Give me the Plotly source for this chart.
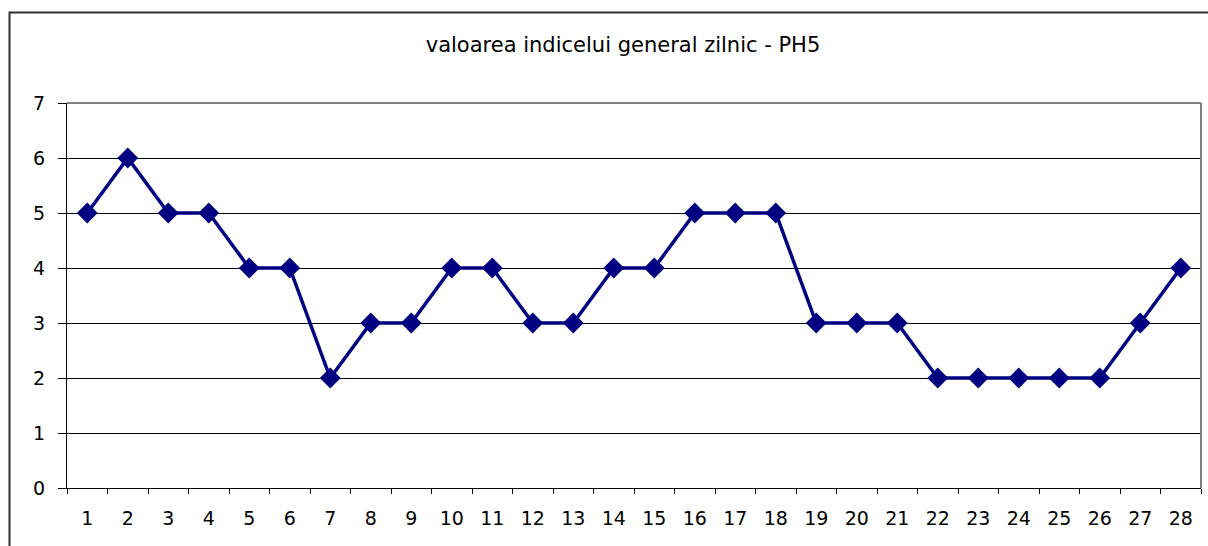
import plotly.graph_objects as go

days = [str(i) for i in range(1, 29)]
values = [5, 6, 5, 5, 4, 4, 2, 3, 3, 4, 4, 3, 3, 4, 4, 5, 5, 5, 3, 3, 3, 2, 2, 2, 2, 2, 3, 4]
y_ticks = [0, 1, 2, 3, 4, 5, 6, 7]

NAVY = "#000080"
# the original text is wide, so a wider sans face is closer than Arial
FONT = "DejaVu Sans, Liberation Sans, sans-serif"

fig = go.Figure(go.Scatter(
    x=days, y=values,
    mode="lines+markers",
    line=dict(color=NAVY, width=3.5),
    marker=dict(symbol="diamond", size=16, color=NAVY),
    cliponaxis=False,
))

fig.update_layout(
    width=1208, height=546,
    paper_bgcolor="white", plot_bgcolor="white",
    font=dict(family=FONT, color="black", size=19),
    margin=dict(l=67, r=7, t=103, b=58, autoexpand=False),
    showlegend=False,
    title=dict(
        text="valoarea indicelui general zilnic - PH5",
        font=dict(size=21, family=FONT, color="black"),
        x=(623 - 67) / 1134, xref="paper", xanchor="center",
        y=1 - 45 / 546, yref="container", yanchor="middle",
    ),
    xaxis=dict(
        type="category", range=[-0.5, 27.5], tickson="boundaries",
        ticks="outside", ticklen=5, tickcolor="black",
        showline=True, linecolor="black", linewidth=1,
        showgrid=False, ticklabelstandoff=13, tickfont=dict(size=19),
    ),
    yaxis=dict(
        range=[0, 7], tickvals=y_ticks, ticks="outside", ticklen=8,
        tickcolor="black", showline=True, linecolor="black", linewidth=1,
        showgrid=True, gridcolor="black", gridwidth=1, zeroline=False,
        ticklabelstandoff=9, tickfont=dict(size=19),
    ),
    shapes=[
        # plot area border (top and right), grey like the original
        dict(type="line", xref="paper", yref="paper", x0=0, x1=1, y0=1, y1=1,
             line=dict(color="#808080", width=2), layer="above"),
        dict(type="line", xref="paper", yref="paper", x0=1, x1=1, y0=0, y1=1,
             line=dict(color="#808080", width=2), layer="above"),
        # outer chart frame
        dict(type="rect", xref="paper", yref="paper",
             x0=(9.5 - 67) / 1134, x1=(1212 - 67) / 1134,
             y0=(488 - 560) / 385, y1=(488 - 12.5) / 385,
             line=dict(color="#303030", width=2), layer="below"),
    ],
)

fig.write_html("out.html", config={"displayModeBar": False},
               post_script="document.body.style.margin='0';")
